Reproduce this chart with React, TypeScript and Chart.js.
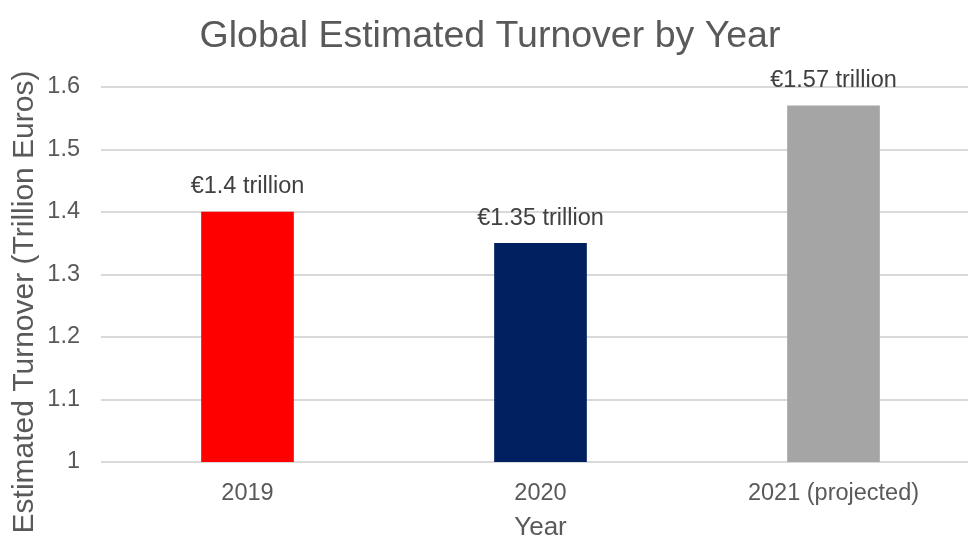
import { useEffect, useRef } from "react";
import { Chart, registerables } from "chart.js";

Chart.register(...registerables);

const FONT = '"Liberation Sans", Arial, Helvetica, sans-serif';

const chartTitle = "Global Estimated Turnover by Year";
const xAxisTitle = "Year";
const yAxisTitle = "Estimated Turnover (Trillion Euros)";

const categories = ["2019", "2020", "2021 (projected)"];
const turnover = [1.4, 1.35, 1.57];
const barColors = ["#ff0000", "#002060", "#a5a5a5"];
const valueLabels = ["€1.4 trillion", "€1.35 trillion", "€1.57 trillion"];

const yMin = 1;
const yMax = 1.6;
const yStep = 0.1;

const valueLabelPlugin = {
  id: "valueLabels",
  afterDatasetsDraw(chart: any) {
    const meta = chart.getDatasetMeta(0);
    const ctx = chart.ctx;
    ctx.save();
    ctx.font = `23.5px ${FONT}`;
    ctx.fillStyle = "#404040";
    ctx.textAlign = "center";
    ctx.textBaseline = "middle";
    meta.data.forEach((bar: any, i: number) => {
      ctx.fillText(valueLabels[i], bar.x, bar.y - 25);
    });
    ctx.restore();
  },
};

const yTitlePlugin = {
  id: "yTitle",
  afterDraw(chart: any) {
    const ctx = chart.ctx;
    ctx.save();
    ctx.translate(25, 302);
    ctx.rotate(-Math.PI / 2);
    ctx.font = `30px ${FONT}`;
    ctx.fillStyle = "#595959";
    ctx.textAlign = "center";
    ctx.textBaseline = "middle";
    ctx.fillText(yAxisTitle, 0, 0);
    ctx.restore();
  },
};

export default function App() {
  const canvasRef = useRef<HTMLCanvasElement | null>(null);

  useEffect(() => {
    document.body.style.margin = "0";
    document.body.style.overflow = "hidden";
    const canvas = canvasRef.current;
    if (!canvas) return;
    const chart = new Chart(canvas, {
      type: "bar",
      data: {
        labels: categories,
        datasets: [
          {
            data: turnover,
            backgroundColor: barColors,
            borderWidth: 0,
            barThickness: 92,
          },
        ],
      },
      options: {
        responsive: false,
        animation: false,
        devicePixelRatio: 1,
        layout: { padding: 0 },
        plugins: {
          legend: { display: false },
          tooltip: { enabled: false },
          title: {
            display: true,
            text: chartTitle,
            color: "#595959",
            font: { family: FONT, size: 37.5, weight: "normal", lineHeight: 1.2 },
            padding: { top: 14, bottom: 28 },
          },
        },
        scales: {
          x: {
            grid: { display: false, drawTicks: false },
            border: { display: false },
            ticks: {
              color: "#595959",
              font: { family: FONT, size: 23.5, lineHeight: 1.2 },
              padding: 17,
              maxRotation: 0,
              autoSkip: false,
            },
            title: {
              display: true,
              text: xAxisTitle,
              color: "#595959",
              font: { family: FONT, size: 26, lineHeight: 0.9 },
              padding: 0,
            },
            afterFit(scale: any) {
              scale.height = 78;
            },
          },
          y: {
            min: yMin,
            max: yMax,
            grid: { color: "#d9d9d9", lineWidth: 2, drawTicks: false },
            border: { display: false },
            ticks: {
              stepSize: yStep,
              color: "#595959",
              font: { family: FONT, size: 23.5 },
              padding: 21,
              callback: (v: any) => String(Math.round(Number(v) * 10) / 10),
            },
            afterFit(scale: any) {
              scale.width = 101;
            },
          },
        },
      } as any,
      plugins: [valueLabelPlugin, yTitlePlugin],
    });
    return () => chart.destroy();
  }, []);

  return (
    <div style={{ position: "fixed", left: 0, top: 0, width: 980, height: 540, background: "#ffffff" }}>
      <canvas ref={canvasRef} width={980} height={540} style={{ display: "block" }} />
    </div>
  );
}
